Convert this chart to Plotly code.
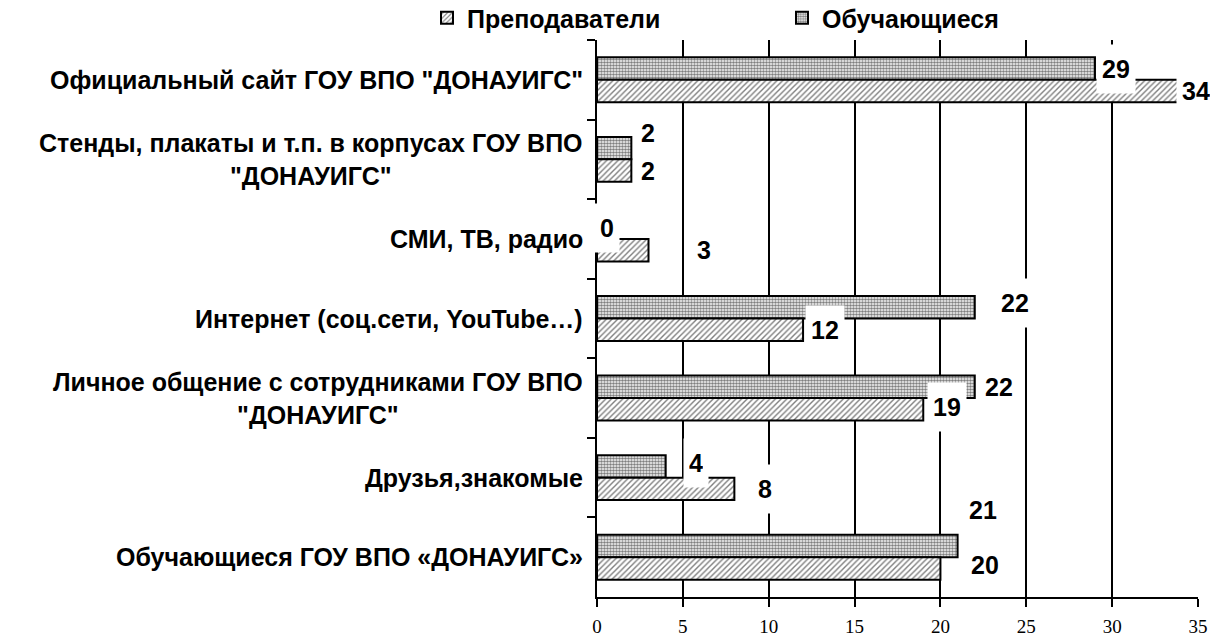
import plotly.graph_objects as go

categories = [
    'Официальный сайт ГОУ ВПО "ДОНАУИГС"',
    'Стенды, плакаты и т.п. в корпусах ГОУ ВПО<br>"ДОНАУИГС"',
    'СМИ, ТВ, радио',
    'Интернет (соц.сети, YouTube…)',
    'Личное общение с сотрудниками ГОУ ВПО<br>"ДОНАУИГС"',
    'Друзья,знакомые',
    'Обучающиеся ГОУ ВПО «ДОНАУИГС»',
]
students = [29, 2, 0, 22, 22, 4, 21]      # Обучающиеся (upper bars)
teachers = [34, 2, 3, 12, 19, 8, 20]      # Преподаватели (lower bars)
x_ticks = [0, 5, 10, 15, 20, 25, 30, 35]

# label offsets in px (dx right, dy down) relative to bar end / bar centre
students_off = [(21, 0), (17, -15), (10, 0), (40, -4), (24, 0), (30, -3), (25, -36)]
teachers_off = [(15, 0), (17, 0), (55, 0), (22, 0), (24, -2), (31, 0), (45, -3)]

W, H = 1224, 638
L, R, T, B = 597, 26, 40, 41
plot_w = W - L - R
plot_h = H - T - B
band = plot_h / len(categories)
bargap = 0.435
bar_px = band * (1 - bargap) / 2

FAM = "Liberation Sans, Arial, sans-serif"
bold = dict(family=FAM, size=25, color="black", weight="bold")

fig = go.Figure()
fig.add_trace(go.Bar(
    y=categories, x=students, orientation="h", name="Обучающиеся",
    marker=dict(color="white", line=dict(color="black", width=2),
                pattern=dict(shape=".", fgcolor="black", bgcolor="white", size=3, solidity=0.6)),
))
fig.add_trace(go.Bar(
    y=categories, x=teachers, orientation="h", name="Преподаватели",
    marker=dict(color="white", line=dict(color="black", width=2),
                pattern=dict(shape="/", fgcolor="black", bgcolor="white", size=4, solidity=0.35)),
))

annotations = []
for vals, offs, sign in ((students, students_off, -1), (teachers, teachers_off, 1)):
    for c, v, (dx, dy) in zip(categories, vals, offs):
        annotations.append(dict(
            x=v, y=c, xref="x", yref="y", text=str(v), showarrow=False,
            xanchor="center", yanchor="middle",
            xshift=dx, yshift=-(sign * bar_px / 2 + dy),
            font=bold, bgcolor="white", height=38, borderpad=5,
        ))
for c in categories:
    annotations.append(dict(
        x=0, y=c, xref="paper", yref="y", text=c, showarrow=False,
        xanchor="right", yanchor="middle", align="center", xshift=-12,
        font=dict(family=FAM, size=25, color="black", weight="bold"),
    ))

fig.update_layout(
    width=W, height=H,
    margin=dict(l=L, r=R, t=T, b=B, pad=0, autoexpand=False),
    paper_bgcolor="white", plot_bgcolor="white",
    barmode="group", bargap=bargap, bargroupgap=0,
    showlegend=True,
    legend=dict(orientation="h", traceorder="reversed",
                x=-170 / plot_w, xanchor="left", y=1 + (T + 5) / plot_h, yanchor="top",
                font=bold, entrywidth=310, itemwidth=30, bgcolor="rgba(0,0,0,0)"),
    annotations=annotations,
    xaxis=dict(range=[0, 35], tickvals=x_ticks, ticktext=[str(t) for t in x_ticks],
               showgrid=True, gridcolor="black", gridwidth=2,
               showline=True, linecolor="black", linewidth=2,
               ticks="outside", ticklen=8, tickwidth=2, tickcolor="black",
               tickfont=dict(family="Liberation Serif, Times New Roman, serif", size=19, color="black"),
               ticklabelstandoff=3, zeroline=False, fixedrange=True, automargin=False),
    yaxis=dict(categoryorder="array", categoryarray=categories,
               range=[len(categories) - 0.5, -0.5],
               showticklabels=False, showgrid=False, showline=True, linecolor="black", linewidth=2,
               ticks="outside", tickson="boundaries", ticklen=8, tickwidth=2, tickcolor="black",
               zeroline=False, fixedrange=True, automargin=False),
)

fig.write_html("out.html", config={"displayModeBar": False},
               post_script="document.body.style.margin='0';")
